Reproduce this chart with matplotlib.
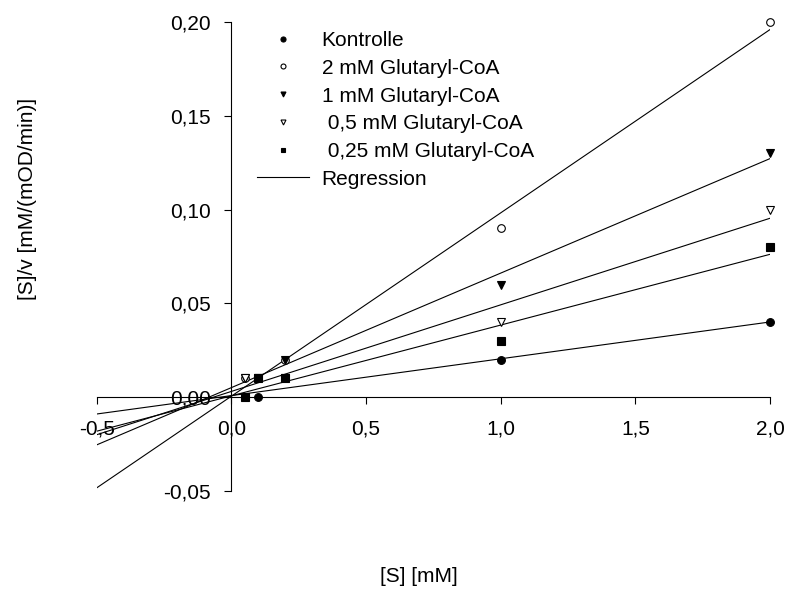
import numpy as np
import matplotlib
matplotlib.use("Agg")
import matplotlib.pyplot as plt

plt.rcParams['font.family'] = ['Liberation Sans', 'DejaVu Sans']

s_conc = [0.05, 0.1, 0.2, 1.0, 2.0]
kontrolle = [0.00, 0.00, 0.01, 0.02, 0.04]
glut_2mM = [0.01, 0.01, 0.02, 0.09, 0.20]
glut_1mM = [0.01, 0.01, 0.02, 0.06, 0.13]
glut_05mM = [0.01, 0.01, 0.01, 0.04, 0.10]
glut_025mM = [0.00, 0.01, 0.01, 0.03, 0.08]

labels = ["Kontrolle", "2 mM Glutaryl-CoA", "1 mM Glutaryl-CoA",
          " 0,5 mM Glutaryl-CoA", " 0,25 mM Glutaryl-CoA"]
x_ticks = [-0.5, 0.0, 0.5, 1.0, 1.5, 2.0]
x_ticklabels = ["-0,5", "0,0", "0,5", "1,0", "1,5", "2,0"]
y_ticks = [-0.05, 0.00, 0.05, 0.10, 0.15, 0.20]
y_ticklabels = ["-0,05", "0,00", "0,05", "0,10", "0,15", "0,20"]

series = [kontrolle, glut_2mM, glut_1mM, glut_05mM, glut_025mM]
styles = [
    dict(marker='o', mfc='black', ms=5.6),
    dict(marker='o', mfc='white', ms=5.5),
    dict(marker='v', mfc='black', ms=5.5),
    dict(marker='v', mfc='white', ms=5.5),
    dict(marker='s', mfc='black', ms=5.4),
]

FS = 15
fig = plt.figure(figsize=(7.87, 5.92), dpi=100)
W, H = 787, 592
left, right = 96.7 / W, 770 / W
top, bottom = 1 - 22 / H, 1 - 491 / H
ax = fig.add_axes([left, bottom, right - left, top - bottom])
ax.set_xlim(-0.5, 2.0)
ax.set_ylim(-0.05, 0.20)

xs = np.array(s_conc)
xline = np.array([-0.5, 2.0])
for ys in series:
    b, a = np.polyfit(xs, np.array(ys), 1)
    ax.plot(xline, a + b * xline, color='black', lw=0.8, zorder=2)

handles = []
for ys, st, lab in zip(series, styles, labels):
    h, = ax.plot(s_conc, ys, linestyle='none', marker=st['marker'],
                 markerfacecolor=st['mfc'], markeredgecolor='black',
                 markersize=st['ms'], markeredgewidth=0.8, clip_on=False,
                 zorder=3, label=lab)
    handles.append(h)
reg, = ax.plot([], [], color='black', lw=0.8, label='Regression')
handles.append(reg)

for s in ['top', 'right']:
    ax.spines[s].set_visible(False)
ax.spines['left'].set_position(('data', 0))
ax.spines['bottom'].set_position(('data', 0))
for s in ['left', 'bottom']:
    ax.spines[s].set_linewidth(0.8)

ax.set_xticks(x_ticks)
ax.set_xticklabels(x_ticklabels)
ax.set_yticks(y_ticks)
ax.set_yticklabels(y_ticklabels)
ax.tick_params(axis='x', direction='out', length=5, width=0.8, pad=11, labelsize=FS)
ax.tick_params(axis='y', direction='out', length=5, width=0.8, pad=10, labelsize=FS)

leg = ax.legend(handles=handles, loc='upper left',
                bbox_to_anchor=(257 / W, 1 - 31 / H), bbox_transform=fig.transFigure,
                frameon=False, fontsize=FS, markerscale=0.65,
                handlelength=2.5, handletextpad=0.6, labelspacing=0.42,
                borderpad=0, borderaxespad=0)

fig.text(419 / W, 1 - 577 / H, "[S] [mM]", ha='center', va='center', fontsize=FS)
fig.text(28 / W, 1 - 199 / H, "[S]/v [mM/(mOD/min)]", ha='center', va='center',
         rotation=90, fontsize=FS)

fig.savefig("out.png", dpi=100)
